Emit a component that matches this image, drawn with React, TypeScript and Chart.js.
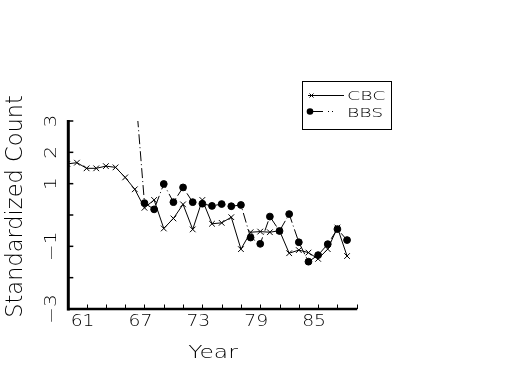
import React, { useEffect, useRef } from "react";
import { Chart, registerables } from "chart.js";

Chart.register(...registerables);

// ---- data (two-digit years) ----
const cbcYears = [59, 60, 61, 62, 63, 64, 65, 66, 67, 68, 69, 70, 71, 72, 73, 74, 75, 76, 77, 78, 79, 80, 81, 82, 83, 84, 85, 86, 87, 88];
const cbcValues = [1.63, 1.67, 1.49, 1.49, 1.56, 1.52, 1.2, 0.82, 0.23, 0.48, -0.43, -0.11, 0.34, -0.46, 0.48, -0.28, -0.25, -0.07, -1.09, -0.55, -0.53, -0.55, -0.5, -1.22, -1.12, -1.2, -1.4, -1.09, -0.4, -1.31];
const bbsYears = [66, 67, 68, 69, 70, 71, 72, 73, 74, 75, 76, 77, 78, 79, 80, 81, 82, 83, 84, 85, 86, 87, 88];
const bbsValues = [4.2, 0.38, 0.18, 0.99, 0.41, 0.88, 0.41, 0.36, 0.29, 0.35, 0.28, 0.32, -0.72, -0.92, -0.05, -0.51, 0.03, -0.87, -1.49, -1.28, -0.93, -0.45, -0.8];

const xTickValues = [59, 61, 63, 65, 67, 69, 71, 73, 75, 77, 79, 81, 83, 85, 87, 89];
const xTickLabels = [61, 67, 73, 79, 85];
const yTickValues = [-3, -2, -1, 0, 1, 2, 3];
const yTickLabels = [3, 2, 1, -1, -3];
const seriesNames = ["CBC", "BBS"];
const xTitle = "Year";
const yTitle = "Standardized Count";

const FONT_FAMILY = '"DejaVu Sans"';
const FONT_WEIGHT = "200";

function drawText(
  ctx: CanvasRenderingContext2D,
  text: string,
  x: number,
  y: number,
  size: number,
  sx: number,
  rot: number,
  align: CanvasTextAlign
) {
  ctx.save();
  ctx.translate(x, y);
  ctx.rotate(rot);
  ctx.scale(sx, 1);
  ctx.font = `${FONT_WEIGHT} ${size}px ${FONT_FAMILY}`;
  ctx.textAlign = align;
  ctx.textBaseline = "alphabetic";
  ctx.fillStyle = "#000";
  ctx.fillText(text, 0, 0);
  ctx.restore();
}

function fmt(v: number) {
  return v < 0 ? "\u2212" + Math.abs(v) : String(v);
}

const decorPlugin = {
  id: "decor",
  afterDatasetsDraw(chart: any) {
    const ctx: CanvasRenderingContext2D = chart.ctx;
    const xs = chart.scales.x;
    const ys = chart.scales.y;
    const area = chart.chartArea;
    ctx.save();
    ctx.strokeStyle = "#000";
    ctx.fillStyle = "#000";

    // y axis line
    ctx.lineWidth = 3;
    ctx.beginPath();
    ctx.moveTo(area.left + 1, area.top - 1);
    ctx.lineTo(area.left + 1, area.bottom + 1.5);
    ctx.stroke();
    // x axis line
    ctx.lineWidth = 2.5;
    ctx.beginPath();
    ctx.moveTo(area.left, area.bottom);
    ctx.lineTo(area.right + 0.5, area.bottom);
    ctx.stroke();

    // y ticks (inward)
    ctx.lineWidth = 1.5;
    for (const v of yTickValues) {
      const py = ys.getPixelForValue(v);
      ctx.beginPath();
      ctx.moveTo(area.left + 1, py);
      ctx.lineTo(area.left + 6, py);
      ctx.stroke();
    }
    // x ticks (inward)
    ctx.lineWidth = 1;
    for (const v of xTickValues) {
      const px = Math.round(xs.getPixelForValue(v)) + 0.5;
      ctx.beginPath();
      ctx.moveTo(px, area.bottom);
      ctx.lineTo(px, area.bottom - 4.5);
      ctx.stroke();
    }

    // y tick labels (rotated)
    for (const v of yTickLabels) {
      const py = ys.getPixelForValue(v);
      drawText(ctx, fmt(v), 56, py, 15, 1.35, -Math.PI / 2, "center");
    }
    // x tick labels
    for (const v of xTickLabels) {
      const px = xs.getPixelForValue(v);
      drawText(ctx, String(v), px - 4, 326, 15, 1.25, 0, "center");
    }
    // axis titles
    drawText(ctx, xTitle, 213, 358, 18, 1.3, 0, "center");
    drawText(ctx, yTitle, 22, 206.5, 22.5, 1.0, -Math.PI / 2, "center");

    // legend
    ctx.lineWidth = 1;
    ctx.strokeRect(302.5, 81.5, 89, 48);
    // CBC sample
    ctx.beginPath();
    ctx.moveTo(308, 95.5);
    ctx.lineTo(344, 95.5);
    ctx.stroke();
    ctx.beginPath();
    ctx.moveTo(309.5, 93.5);
    ctx.lineTo(313.5, 97.5);
    ctx.moveTo(313.5, 93.5);
    ctx.lineTo(309.5, 97.5);
    ctx.stroke();
    drawText(ctx, seriesNames[0], 347, 100, 13, 1.45, 0, "left");
    // BBS sample
    ctx.beginPath();
    ctx.setLineDash([13, 5, 1, 3, 1, 100]);
    ctx.moveTo(310, 111.5);
    ctx.lineTo(345, 111.5);
    ctx.stroke();
    ctx.setLineDash([]);
    ctx.beginPath();
    ctx.arc(310, 111.5, 3.3, 0, Math.PI * 2);
    ctx.fill();
    drawText(ctx, seriesNames[1], 347, 117, 13, 1.45, 0, "left");

    ctx.restore();
  },
};

export default function App() {
  const canvasRef = useRef<HTMLCanvasElement | null>(null);

  useEffect(() => {
    if (!canvasRef.current) return;
    const chart = new Chart(canvasRef.current, {
      type: "line",
      data: {
        datasets: [
          {
            label: seriesNames[0],
            data: cbcYears.map((x, i) => ({ x, y: cbcValues[i] })),
            borderColor: "#000",
            backgroundColor: "#000",
            borderWidth: 1,
            pointStyle: "crossRot",
            pointRadius: 4,
            pointBorderWidth: 1,
            pointBorderColor: "#000",
            tension: 0,
          },
          {
            label: seriesNames[1],
            data: bbsYears.map((x, i) => ({ x, y: bbsValues[i] })),
            borderColor: "#000",
            backgroundColor: "#000",
            borderWidth: 1,
            borderDash: [10, 3, 1, 3],
            pointStyle: "circle",
            pointRadius: 3.4,
            pointBorderWidth: 1,
            pointBackgroundColor: "#000",
            pointBorderColor: "#000",
            tension: 0,
          },
        ],
      },
      options: {
        responsive: false,
        animation: false,
        events: [],
        layout: { padding: { left: 67.3, right: 525 - 356.7, top: 121, bottom: 375 - 309 } },
        scales: {
          x: { type: "linear", min: 59, max: 89, display: false },
          y: { type: "linear", min: -3, max: 3, display: false },
        },
        plugins: {
          legend: { display: false },
          tooltip: { enabled: false },
          title: { display: false },
        },
      },
      plugins: [decorPlugin],
    });
    return () => chart.destroy();
  }, []);

  return (
    <div style={{ position: "fixed", left: 0, top: 0, width: 525, height: 375, background: "#fff" }}>
      <canvas ref={canvasRef} width={525} height={375} style={{ display: "block" }} />
    </div>
  );
}
